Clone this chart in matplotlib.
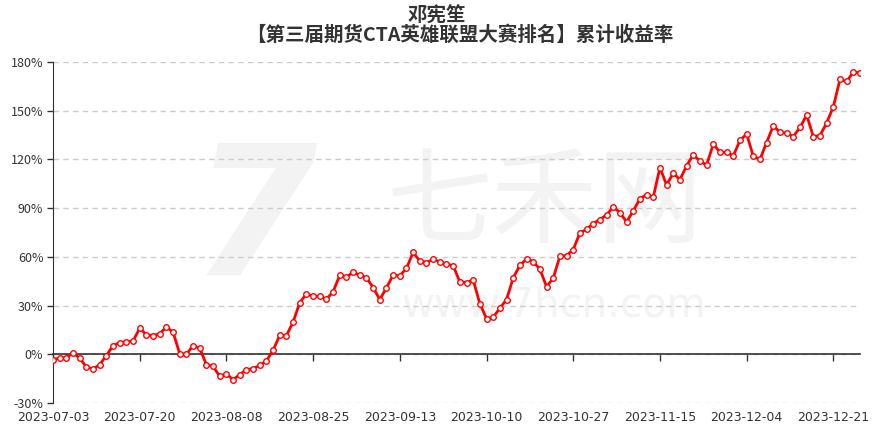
import numpy as np
import pandas as pd
import matplotlib
matplotlib.use("Agg")
import matplotlib.pyplot as plt
from matplotlib.transforms import blended_transform_factory

plt.rcParams['font.family'] = ['Noto Sans CJK SC', 'DejaVu Sans']

# trading days (China, 2023 H2), national-day / mid-autumn holidays removed
holidays = ['2023-09-29', '2023-10-02', '2023-10-03', '2023-10-04', '2023-10-05', '2023-10-06']
dates = [d.strftime('%Y-%m-%d') for d in pd.bdate_range('2023-07-03', '2023-12-27')
         if d.strftime('%Y-%m-%d') not in holidays]

# cumulative return, %
returns = [
    -3.3, -2.3, -2.1, 0.8, -2.3, -7.8, -9.0, -6.4, -0.8, 5.3,
    7.2, 7.6, 8.2, 16.0, 12.1, 11.5, 12.7, 16.8, 13.6, 0.4,
    0.0, 5.3, 3.8, -6.4, -7.4, -13.6, -12.1, -15.6, -12.5, -9.5,
    -8.8, -6.8, -4.1, 2.5, 11.7, 11.5, 19.9, 31.8, 37.2, 35.7,
    35.7, 33.9, 38.6, 48.6, 47.6, 50.5, 48.7, 47.2, 41.1, 33.7,
    40.9, 48.9, 48.3, 53.0, 62.7, 57.5, 56.5, 58.5, 56.9, 55.6,
    54.6, 44.6, 44.2, 45.8, 31.2, 22.0, 22.8, 28.4, 33.7, 47.0,
    54.8, 58.7, 57.1, 52.4, 41.7, 46.8, 60.4, 60.8, 64.5, 74.7,
    77.0, 80.5, 83.0, 85.8, 90.8, 87.3, 81.5, 88.3, 95.7, 98.4,
    96.7, 115.0, 104.3, 111.5, 107.6, 116.0, 123.0, 118.9, 116.6, 129.4,
    124.5, 124.3, 122.2, 131.7, 135.7, 122.0, 120.0, 130.4, 140.8, 136.7,
    136.2, 134.1, 139.7, 147.3, 134.1, 134.7, 142.5, 152.4, 169.3, 168.0,
    173.9, 173.3,
]

y_ticks = [-30, 0, 30, 60, 90, 120, 150, 180]
label_step = 13

fig = plt.figure(figsize=(8.8, 4.26), dpi=100)
ax = fig.add_axes([53 / 880, 23 / 426, 807 / 880, 341 / 426])

x = np.arange(len(dates))

# watermark
ax.text(0.61, 0.58, '七禾网', transform=ax.transAxes, fontsize=76, color='#f3f3f3',
        ha='center', va='center', zorder=0)
ax.text(0.62, 0.285, 'www.7hcn.com', transform=ax.transAxes, fontsize=29, color='#f3f3f3',
        ha='center', va='center', zorder=0, family='DejaVu Sans')
ax.text(0.25, 0.52, '7', transform=ax.transAxes, fontsize=130, color='#f3f3f3',
        ha='center', va='center', zorder=0, family='DejaVu Sans', fontweight='bold',
        style='italic')

ax.plot(x, returns, color='#ff0000', linewidth=2, marker='o', markersize=4,
        markerfacecolor='white', markeredgecolor='#ff0000', markeredgewidth=1, zorder=3)

ax.set_xlim(0, len(dates) - 1)
ax.set_ylim(-30, 180)
ax.set_yticks(y_ticks)
ax.set_yticklabels([f'{v}%' for v in y_ticks], fontsize=9, color='#333333')
ax.yaxis.grid(True, linestyle=(0, (4, 3)), color='#cccccc', linewidth=1)
ax.set_axisbelow(True)
ax.tick_params(axis='y', length=4, width=1, color='#333333', pad=3)

for s in ['top', 'right']:
    ax.spines[s].set_visible(False)
ax.spines['left'].set_color('#333333')
ax.spines['bottom'].set_position(('data', 0))
ax.spines['bottom'].set_color('#333333')
ax.spines['bottom'].set_linewidth(1.2)

tick_idx = list(range(0, len(dates), label_step))
ax.set_xticks(tick_idx)
ax.set_xticklabels([])
ax.tick_params(axis='x', length=5, width=1, color='#333333')

trans = blended_transform_factory(ax.transData, ax.transAxes)
for i in tick_idx:
    ax.text(i, -0.042, dates[i], transform=trans, ha='center', va='center',
            fontsize=9, color='#333333', family='DejaVu Sans')

fig.text(437 / 880, 1 - 16 / 426, '邓宪笙', ha='center', va='center',
         fontsize=14, fontweight='bold', color='#333333')
fig.text(460 / 880, 1 - 35 / 426, '【第三届期货CTA英雄联盟大赛排名】累计收益率',
         ha='center', va='center', fontsize=14, fontweight='bold', color='#333333')

fig.savefig('out.png', dpi=100)
